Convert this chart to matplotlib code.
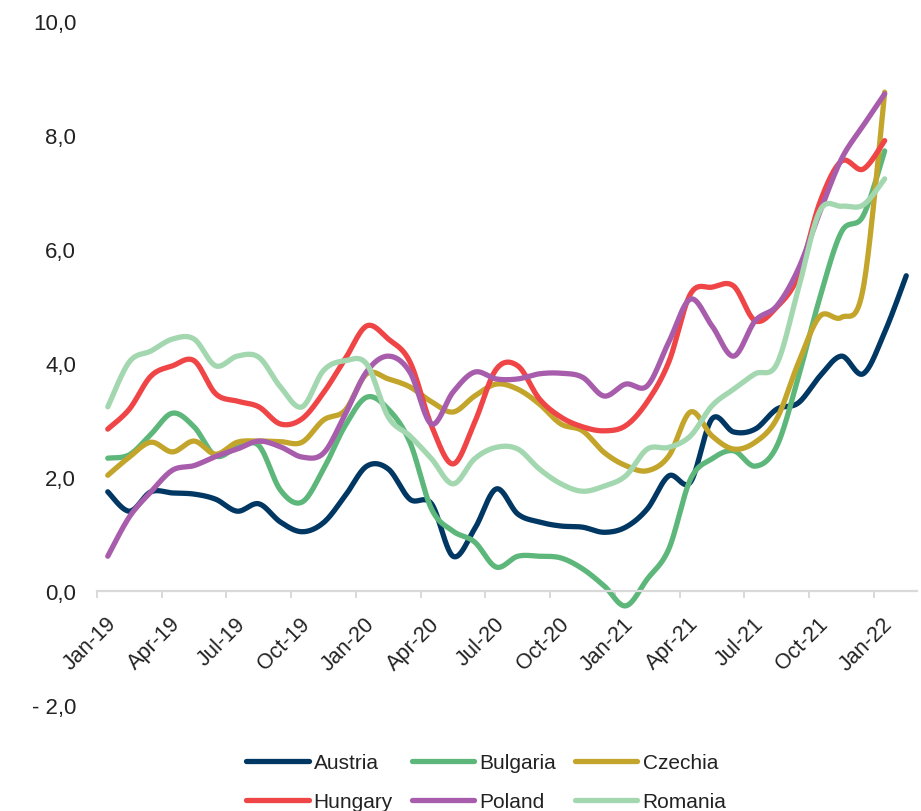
import numpy as np
import matplotlib
matplotlib.use("Agg")
import matplotlib.pyplot as plt
import matplotlib.transforms as mtransforms
from matplotlib.lines import Line2D

# Monthly values, Jan-19 .. Jan-22 (Austria runs to Feb-22)
austria = [1.74, 1.40, 1.74, 1.72, 1.70, 1.61, 1.40, 1.53, 1.21, 1.04,
           1.20, 1.67, 2.19, 2.14, 1.61, 1.53, 0.61, 1.09, 1.79, 1.35,
           1.21, 1.14, 1.12, 1.03, 1.12, 1.44, 2.02, 1.91, 3.02, 2.79,
           2.84, 3.19, 3.30, 3.77, 4.12, 3.81, 4.54, 5.53]
bulgaria = [2.33, 2.39, 2.75, 3.12, 2.88, 2.37, 2.52, 2.55, 1.77, 1.56,
            2.14, 2.90, 3.40, 3.19, 2.61, 1.44, 1.05, 0.86, 0.42, 0.61,
            0.61, 0.58, 0.39, 0.09, -0.26, 0.21, 0.74, 1.96, 2.32, 2.46,
            2.19, 2.54, 3.75, 5.15, 6.30, 6.58, 7.72]
czechia = [2.03, 2.35, 2.61, 2.44, 2.63, 2.40, 2.61, 2.63, 2.62, 2.61,
           3.00, 3.17, 3.81, 3.72, 3.58, 3.32, 3.14, 3.42, 3.63, 3.54,
           3.28, 2.93, 2.81, 2.43, 2.20, 2.11, 2.37, 3.14, 2.72, 2.49,
           2.61, 3.02, 4.00, 4.82, 4.80, 5.30, 8.75]
hungary = [2.84, 3.19, 3.77, 3.95, 4.04, 3.46, 3.33, 3.23, 2.93, 3.02,
           3.48, 4.07, 4.65, 4.42, 4.02, 2.90, 2.23, 2.96, 3.89, 3.95,
           3.37, 3.05, 2.88, 2.81, 2.90, 3.32, 4.02, 5.21, 5.33, 5.35,
           4.74, 4.98, 5.53, 6.82, 7.54, 7.40, 7.90]
poland = [0.61, 1.30, 1.74, 2.12, 2.20, 2.36, 2.49, 2.63, 2.53, 2.35,
          2.42, 3.10, 3.85, 4.12, 3.84, 2.93, 3.49, 3.84, 3.72, 3.72,
          3.81, 3.82, 3.75, 3.42, 3.63, 3.60, 4.37, 5.12, 4.65, 4.12,
          4.74, 5.00, 5.65, 6.65, 7.58, 8.16, 8.72]
romania = [3.23, 4.02, 4.21, 4.42, 4.42, 3.95, 4.12, 4.10, 3.58, 3.23,
           3.87, 4.04, 3.98, 3.05, 2.72, 2.32, 1.88, 2.32, 2.52, 2.49,
           2.14, 1.88, 1.75, 1.84, 2.02, 2.49, 2.52, 2.72, 3.25, 3.54,
           3.81, 3.98, 5.30, 6.67, 6.75, 6.77, 7.23]

countries = ["Austria", "Bulgaria", "Czechia", "Hungary", "Poland", "Romania"]
series = [austria, bulgaria, czechia, hungary, poland, romania]
colors = ["#003863", "#5db77b", "#c3a52b", "#ef4547", "#a85dac", "#a3d7b0"]

tick_labels = ["Jan-19", "Apr-19", "Jul-19", "Oct-19",
               "Jan-20", "Apr-20", "Jul-20", "Oct-20",
               "Jan-21", "Apr-21", "Jul-21", "Oct-21", "Jan-22"]
y_ticks = [-2, 0, 2, 4, 6, 8, 10]
n_months = 38


def smooth_curve(values, steps=24):
    """Bezier smoothing through every point (spreadsheet-style smoothed line)."""
    p = np.asarray(values, dtype=float)
    x = np.arange(len(p), dtype=float)
    px = np.concatenate([[x[0]], x, [x[-1]]])
    py = np.concatenate([[p[0]], p, [p[-1]]])
    t = np.linspace(0, 1, steps, endpoint=False)[:, None]
    out_x, out_y = [], []
    for i in range(1, len(p)):
        x0, x1, x2, x3 = px[i - 1], px[i], px[i + 1], px[i + 2]
        y0, y1, y2, y3 = py[i - 1], py[i], py[i + 1], py[i + 2]
        cx1, cy1 = x1 + (x2 - x0) / 6, y1 + (y2 - y0) / 6
        cx2, cy2 = x2 - (x3 - x1) / 6, y2 - (y3 - y1) / 6
        b0 = (1 - t) ** 3
        b1 = 3 * (1 - t) ** 2 * t
        b2 = 3 * (1 - t) * t ** 2
        b3 = t ** 3
        out_x.append((b0 * x1 + b1 * cx1 + b2 * cx2 + b3 * x2).ravel())
        out_y.append((b0 * y1 + b1 * cy1 + b2 * cy2 + b3 * y2).ravel())
    out_x.append([x[-1]])
    out_y.append([p[-1]])
    return np.concatenate(out_x), np.concatenate(out_y)


plt.rcParams["font.family"] = ["Liberation Sans", "DejaVu Sans"]
text_color = "#222222"
axis_grey = "#d9d9d9"

fig = plt.figure(figsize=(9.21, 8.12), dpi=100)
ax = fig.add_axes([0.1053, 0.1305, 0.8904, 0.8425])

for name, vals, col in zip(countries, series, colors):
    sx, sy = smooth_curve(vals)
    ax.plot(sx, sy, color=col, lw=3.8, solid_capstyle="round",
            solid_joinstyle="round", label=name)

ax.set_xlim(-0.5, n_months - 0.5)
ax.set_ylim(-2, 10)

for side in ("top", "right", "left"):
    ax.spines[side].set_visible(False)
ax.spines["bottom"].set_position(("data", 0))
ax.spines["bottom"].set_color(axis_grey)
ax.spines["bottom"].set_linewidth(1.6)

# tick marks on quarter boundaries, labels centred on each quarter's first month
ax.set_xticks([3 * k - 0.5 for k in range(len(tick_labels))])
ax.set_xticklabels([])
ax.tick_params(axis="x", which="major", length=5, width=1.4, color=axis_grey)
ax.set_xticks([3 * k for k in range(len(tick_labels))], minor=True)
ax.set_xticklabels(tick_labels, minor=True, rotation=45, ha="right",
                   va="center", rotation_mode="anchor", fontsize=15.5,
                   color=text_color)
ax.tick_params(axis="x", which="minor", length=0, pad=21)
shift = mtransforms.ScaledTranslation(5 / 100, 0, fig.dpi_scale_trans)
for lbl in ax.get_xticklabels(minor=True):
    lbl.set_transform(lbl.get_transform() + shift)

ax.set_yticks(y_ticks)
ax.set_yticklabels([("- " if v < 0 else "") + f"{abs(v):.1f}".replace(".", ",")
                    for v in y_ticks], fontsize=16, color=text_color)
ax.tick_params(axis="y", length=0, pad=15)

# legend filled row by row: Austria, Bulgaria, Czechia / Hungary, Poland, Romania
order = [0, 3, 1, 4, 2, 5]
handles = [Line2D([], [], color=colors[i], lw=3.8, solid_capstyle="round")
           for i in order]
fig.legend(handles, [countries[i] for i in order], ncol=3, loc="center",
           bbox_to_anchor=(0.528, 0.0357), frameon=False, fontsize=15,
           handlelength=3.0, handletextpad=0.25, columnspacing=0.9,
           labelspacing=0.94, labelcolor=text_color)

fig.savefig("out.png", dpi=100)
